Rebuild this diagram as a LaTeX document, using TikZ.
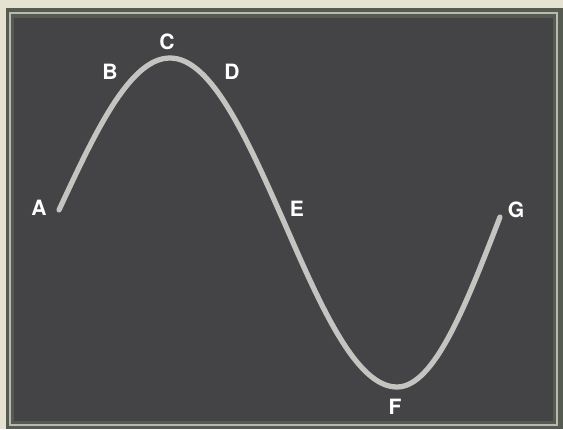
\documentclass[tikz,border=0pt]{standalone}
\usepackage{fontspec}
\setsansfont{TeX Gyre Heros}
\usetikzlibrary{positioning}
\definecolor{paper}{HTML}{E6E2D2}
\definecolor{bezel}{HTML}{565B52}
\definecolor{screen}{HTML}{444345}
\definecolor{rim}{HTML}{B9B9B0}
\definecolor{trace}{HTML}{C4C4C0}
\tikzset{
ptlabel/.style={
  text=white,
  font=\sffamily\bfseries\large,
  inner sep=1pt
  },
wave/.style={
  draw=trace,
  line width=3pt,
  line cap=round
  }
}

\begin{document}
\begin{tikzpicture}[x=0.02cm,y=-0.02cm]

\useasboundingbox (0,0) rectangle (563,429);
\fill[paper] (0,0) rectangle (563,429);
\fill[bezel] (6,8) rectangle (563,429);
\draw[rim,line width=0.8pt] (10,13) rectangle (557,425);
\fill[screen] (14,18) rectangle (553,421);

% points on the trace
\coordinate (pA) at (59,210);
\coordinate (pC) at (170,58);
\coordinate (pE) at (284,222);
\coordinate (pF) at (397,387);
\coordinate (pG) at (500,217);

\draw[wave] (pA)
  .. controls (95.2,132.1) and (129.8,58) .. (pC)
  .. controls (211.3,58) and (246.8,138) .. (pE)
  .. controls (320.8,306.5) and (356.1,387) .. (pF)
  .. controls (434.4,387) and (466.4,304) .. (pG);

\node[ptlabel] (A) at (39,208) {A};
\node[ptlabel] (B) at (110,72) {B};
\node[ptlabel] (C) at (167,42) {C};
\node[ptlabel] (D) at (232,72) {D};
\node[ptlabel] (E) at (297,209) {E};
\node[ptlabel] (F) at (395,407) {F};
\node[ptlabel] (G) at (516,210) {G};

\end{tikzpicture}
\end{document}
